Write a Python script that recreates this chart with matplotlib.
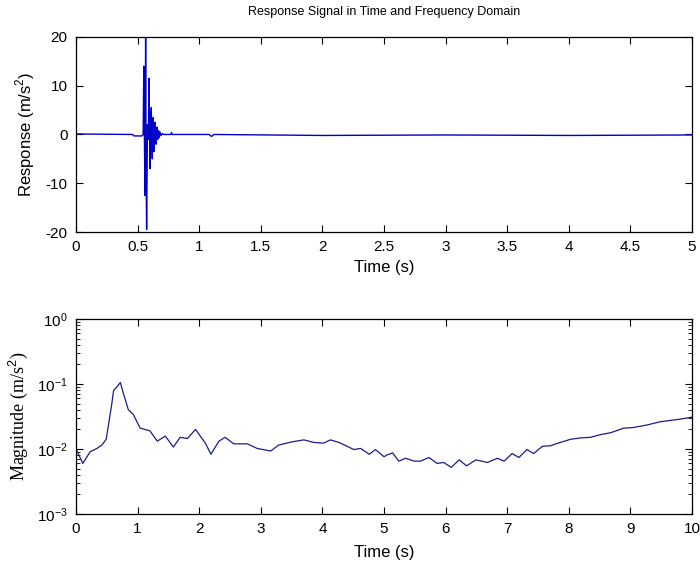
import matplotlib
matplotlib.use('Agg')
import matplotlib.pyplot as plt
from matplotlib.ticker import LogLocator, NullFormatter

plt.rcParams['font.family'] = ['Liberation Sans', 'DejaVu Sans']
plt.rcParams['mathtext.fontset'] = 'custom'
plt.rcParams['mathtext.rm'] = 'Liberation Sans'
plt.rcParams['axes.unicode_minus'] = False

# response signal (time s, m/s^2)
t_resp = [0.0, 0.46, 0.47, 0.535, 0.545, 0.550, 0.556, 0.560, 0.565, 0.569, 0.573,
          0.580, 0.587, 0.592, 0.597, 0.601, 0.606, 0.611, 0.615, 0.619, 0.623,
          0.627, 0.632, 0.637, 0.643, 0.649, 0.654, 0.659, 0.664, 0.670, 0.676,
          0.682, 0.690, 0.700, 0.710, 0.770, 0.775, 0.780, 1.08, 1.10, 1.12,
          2.0, 3.0, 4.0, 5.0]
resp = [0.1, 0.0, -0.3, -0.3, 0.0, 14.0, -3.0, -12.5, 20.0, -8.0, -19.5,
        2.0, -1.0, 11.5, 1.0, -7.0, 2.0, 5.5, -2.0, -5.0, 0.5,
        3.5, -3.5, 1.0, 2.5, -2.0, 0.5, 1.5, -1.0, 0.8, -0.6,
        0.5, -0.2, 0.2, 0.0, 0.0, 0.4, 0.0, 0.0, -0.4, 0.0,
        -0.2, -0.1, -0.2, -0.1]

# magnitude spectrum
t_mag = [0.0, 0.11, 0.23, 0.34, 0.42, 0.49, 0.58, 0.61, 0.72, 0.77, 0.85, 0.93,
         1.04, 1.2, 1.32, 1.45, 1.58, 1.69, 1.81, 1.94, 2.1, 2.19, 2.32, 2.42,
         2.56, 2.78, 2.94, 3.16, 3.29, 3.51, 3.7, 3.86, 4.02, 4.13, 4.27, 4.4,
         4.51, 4.62, 4.76, 4.86, 5.0, 5.05, 5.14, 5.24, 5.35, 5.49, 5.59, 5.73,
         5.86, 5.97, 6.09, 6.22, 6.34, 6.49, 6.68, 6.84, 6.95, 7.08, 7.19, 7.32,
         7.43, 7.57, 7.7, 7.86, 8.03, 8.19, 8.35, 8.51, 8.68, 8.89, 9.05, 9.27,
         9.49, 9.65, 9.81, 10.0]
mag = [0.0100, 0.0060, 0.0091, 0.0102, 0.0115, 0.0141, 0.049, 0.079, 0.105, 0.071,
       0.040, 0.034, 0.021, 0.019, 0.0132, 0.0158, 0.0107, 0.0151, 0.0145, 0.020,
       0.0123, 0.0083, 0.0132, 0.0151, 0.0120, 0.0120, 0.0102, 0.0093, 0.0115,
       0.0129, 0.0138, 0.0126, 0.0123, 0.0138, 0.0126, 0.0110, 0.0098, 0.0102,
       0.0083, 0.0098, 0.0076, 0.0081, 0.0087, 0.0065, 0.0072, 0.0065, 0.0065,
       0.0074, 0.0060, 0.0062, 0.0052, 0.0068, 0.0055, 0.0068, 0.0062, 0.0072,
       0.0065, 0.0085, 0.0074, 0.0098, 0.0085, 0.0110, 0.0112, 0.0126, 0.0141,
       0.0148, 0.0151, 0.0166, 0.0178, 0.0209, 0.0214, 0.0234, 0.0263, 0.0275,
       0.0288, 0.0309]

x_ticks_top = [0, 0.5, 1, 1.5, 2, 2.5, 3, 3.5, 4, 4.5, 5]
x_labels_top = ['0', '0.5', '1', '1.5', '2', '2.5', '3', '3.5', '4', '4.5', '5']
y_ticks_top = [-20, -10, 0, 10, 20]
x_ticks_bot = [0, 1, 2, 3, 4, 5, 6, 7, 8, 9, 10]

fig = plt.figure(figsize=(7, 5.72), dpi=100)
ax1 = fig.add_axes([0.1086, 0.5944, 0.88, 0.341])
ax2 = fig.add_axes([0.1086, 0.1014, 0.88, 0.341])

ax1.plot(t_resp, resp, color='#0000c8', lw=1.0)
ax1.set_xlim(0, 5)
ax1.set_ylim(-20, 20)
ax1.set_xticks(x_ticks_top)
ax1.set_xticklabels(x_labels_top)
ax1.set_yticks(y_ticks_top)
ax1.set_xlabel('Time (s)', fontsize=12, labelpad=4)
ax1.set_ylabel('Response (m/s$^2$)', fontsize=12, labelpad=6)
ax1.set_title('Response Signal in Time and Frequency Domain', fontsize=9, pad=16)

ax2.plot(t_mag, mag, color='#1c1c8a', lw=0.9)
ax2.set_yscale('log')
ax2.set_xlim(0, 10)
ax2.set_ylim(1e-3, 1)
ax2.set_xticks(x_ticks_bot)
ax2.yaxis.set_major_locator(LogLocator(base=10, numticks=10))
ax2.yaxis.set_minor_locator(LogLocator(base=10, subs=range(2, 10), numticks=20))
ax2.yaxis.set_minor_formatter(NullFormatter())
ax2.set_xlabel('Time (s)', fontsize=12, labelpad=6)
ax2.set_ylabel('Magnitude (m/s$^2$)', fontsize=13, labelpad=5,
               family='Liberation Serif')

for ax in (ax1, ax2):
    for s in ax.spines.values():
        s.set_linewidth(0.9)
    ax.tick_params(which='major', direction='in', top=True, right=True,
                   length=5, width=0.8, labelsize=11, pad=6)
    ax.tick_params(which='minor', direction='in', top=True, right=True,
                   length=3, width=0.6)

fig.savefig('out.png', dpi=100)
